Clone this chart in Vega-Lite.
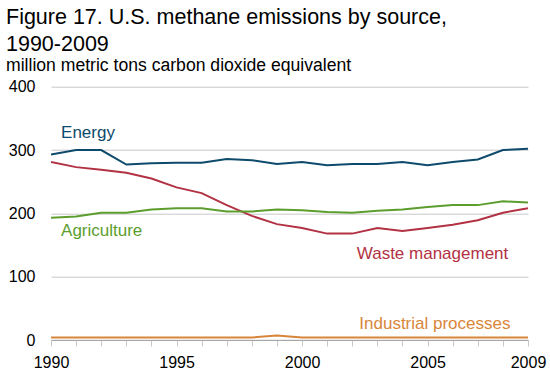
{
  "$schema": "https://vega.github.io/schema/vega-lite/v6.json",
  "autosize": "none",
  "width": 477,
  "height": 253.3,
  "padding": {"left": 51, "top": 86.7, "right": 22, "bottom": 34},
  "background": "white",
  "title": {
    "text": ["Figure 17. U.S. methane emissions by source,", "1990-2009"],
    "subtitle": "million metric tons carbon dioxide equivalent",
    "anchor": "start",
    "frame": "group",
    "dx": -45,
    "offset": 4,
    "font": "Liberation Sans",
    "fontSize": 21.5,
    "fontWeight": "normal",
    "lineHeight": 27,
    "color": "#000000",
    "subtitleFont": "Liberation Sans",
    "subtitleFontSize": 17.6,
    "subtitleColor": "#000000",
    "subtitlePadding": 2
  },
  "datasets": {
    "series": [
      {"year": 1990, "source": "Energy", "value": 293},
      {"year": 1991, "source": "Energy", "value": 300},
      {"year": 1992, "source": "Energy", "value": 300},
      {"year": 1993, "source": "Energy", "value": 277},
      {"year": 1994, "source": "Energy", "value": 279},
      {"year": 1995, "source": "Energy", "value": 280},
      {"year": 1996, "source": "Energy", "value": 280},
      {"year": 1997, "source": "Energy", "value": 286},
      {"year": 1998, "source": "Energy", "value": 284},
      {"year": 1999, "source": "Energy", "value": 278},
      {"year": 2000, "source": "Energy", "value": 281},
      {"year": 2001, "source": "Energy", "value": 276},
      {"year": 2002, "source": "Energy", "value": 278},
      {"year": 2003, "source": "Energy", "value": 278},
      {"year": 2004, "source": "Energy", "value": 281},
      {"year": 2005, "source": "Energy", "value": 276},
      {"year": 2006, "source": "Energy", "value": 281},
      {"year": 2007, "source": "Energy", "value": 285},
      {"year": 2008, "source": "Energy", "value": 300},
      {"year": 2009, "source": "Energy", "value": 302},
      {"year": 1990, "source": "Waste management", "value": 281},
      {"year": 1991, "source": "Waste management", "value": 273},
      {"year": 1992, "source": "Waste management", "value": 269},
      {"year": 1993, "source": "Waste management", "value": 264},
      {"year": 1994, "source": "Waste management", "value": 255},
      {"year": 1995, "source": "Waste management", "value": 241},
      {"year": 1996, "source": "Waste management", "value": 232},
      {"year": 1997, "source": "Waste management", "value": 213},
      {"year": 1998, "source": "Waste management", "value": 196},
      {"year": 1999, "source": "Waste management", "value": 183},
      {"year": 2000, "source": "Waste management", "value": 177},
      {"year": 2001, "source": "Waste management", "value": 168},
      {"year": 2002, "source": "Waste management", "value": 168},
      {"year": 2003, "source": "Waste management", "value": 177},
      {"year": 2004, "source": "Waste management", "value": 172},
      {"year": 2005, "source": "Waste management", "value": 177},
      {"year": 2006, "source": "Waste management", "value": 182},
      {"year": 2007, "source": "Waste management", "value": 189},
      {"year": 2008, "source": "Waste management", "value": 201},
      {"year": 2009, "source": "Waste management", "value": 208},
      {"year": 1990, "source": "Agriculture", "value": 193},
      {"year": 1991, "source": "Agriculture", "value": 195},
      {"year": 1992, "source": "Agriculture", "value": 201},
      {"year": 1993, "source": "Agriculture", "value": 201},
      {"year": 1994, "source": "Agriculture", "value": 206},
      {"year": 1995, "source": "Agriculture", "value": 208},
      {"year": 1996, "source": "Agriculture", "value": 208},
      {"year": 1997, "source": "Agriculture", "value": 203},
      {"year": 1998, "source": "Agriculture", "value": 203},
      {"year": 1999, "source": "Agriculture", "value": 206},
      {"year": 2000, "source": "Agriculture", "value": 205},
      {"year": 2001, "source": "Agriculture", "value": 202},
      {"year": 2002, "source": "Agriculture", "value": 201},
      {"year": 2003, "source": "Agriculture", "value": 204},
      {"year": 2004, "source": "Agriculture", "value": 206},
      {"year": 2005, "source": "Agriculture", "value": 210},
      {"year": 2006, "source": "Agriculture", "value": 213},
      {"year": 2007, "source": "Agriculture", "value": 213},
      {"year": 2008, "source": "Agriculture", "value": 219},
      {"year": 2009, "source": "Agriculture", "value": 217},
      {"year": 1990, "source": "Industrial processes", "value": 4},
      {"year": 1991, "source": "Industrial processes", "value": 4},
      {"year": 1992, "source": "Industrial processes", "value": 4},
      {"year": 1993, "source": "Industrial processes", "value": 4},
      {"year": 1994, "source": "Industrial processes", "value": 4},
      {"year": 1995, "source": "Industrial processes", "value": 4},
      {"year": 1996, "source": "Industrial processes", "value": 4},
      {"year": 1997, "source": "Industrial processes", "value": 4},
      {"year": 1998, "source": "Industrial processes", "value": 4},
      {"year": 1999, "source": "Industrial processes", "value": 7},
      {"year": 2000, "source": "Industrial processes", "value": 4},
      {"year": 2001, "source": "Industrial processes", "value": 4},
      {"year": 2002, "source": "Industrial processes", "value": 4},
      {"year": 2003, "source": "Industrial processes", "value": 4},
      {"year": 2004, "source": "Industrial processes", "value": 4},
      {"year": 2005, "source": "Industrial processes", "value": 4},
      {"year": 2006, "source": "Industrial processes", "value": 4},
      {"year": 2007, "source": "Industrial processes", "value": 4},
      {"year": 2008, "source": "Industrial processes", "value": 4},
      {"year": 2009, "source": "Industrial processes", "value": 4}
    ],
    "labels": [
      {"source": "Energy", "year": 1990.4, "value": 319.6},
      {"source": "Agriculture", "year": 1990.4, "value": 164.3},
      {"source": "Waste management", "year": 2002.18, "value": 127.5},
      {"source": "Industrial processes", "year": 2002.28, "value": 17.4}
    ]
  },
  "encoding": {
    "x": {
      "field": "year",
      "type": "quantitative",
      "scale": {"domain": [1990, 2009], "nice": false, "zero": false},
      "axis": {
        "title": null,
        "values": [1990, 1991, 1992, 1993, 1994, 1995, 1996, 1997, 1998, 1999, 2000, 2001, 2002, 2003, 2004, 2005, 2006, 2007, 2008, 2009],
        "labelExpr": "indexof([1990, 1995, 2000, 2005, 2009], datum.value) >= 0 ? datum.label : ''",
        "format": "d",
        "labelOverlap": false,
        "labelFlush": false,
        "grid": false,
        "domainColor": "#a6a6a6",
        "tickColor": "#c8c8c8",
        "tickSize": 6,
        "labelPadding": 8,
        "labelFontSize": 16,
        "labelColor": "#000000",
        "labelFont": "Liberation Sans"
      }
    },
    "y": {
      "field": "value",
      "type": "quantitative",
      "scale": {"domain": [0, 400], "nice": false},
      "axis": {
        "title": null,
        "values": [0, 100, 200, 300, 400],
        "domain": false,
        "ticks": false,
        "grid": true,
        "gridColor": "#c8c8c8",
        "labelPadding": 16,
        "labelFontSize": 16,
        "labelColor": "#000000",
        "labelFont": "Liberation Sans"
      }
    },
    "color": {
      "field": "source",
      "type": "nominal",
      "scale": {
        "domain": ["Energy", "Waste management", "Agriculture", "Industrial processes"],
        "range": ["#0d4a6b", "#b23244", "#5c9e2e", "#d8863a"]
      },
      "legend": null
    }
  },
  "layer": [
    {
      "data": {"name": "series"},
      "mark": {"type": "line", "strokeWidth": 2, "clip": true}
    },
    {
      "data": {"name": "labels"},
      "mark": {"type": "text", "align": "left", "baseline": "alphabetic", "fontSize": 17, "font": "Liberation Sans"},
      "encoding": {"text": {"field": "source"}}
    }
  ],
  "config": {"view": {"stroke": null}, "font": "Liberation Sans"}
}
